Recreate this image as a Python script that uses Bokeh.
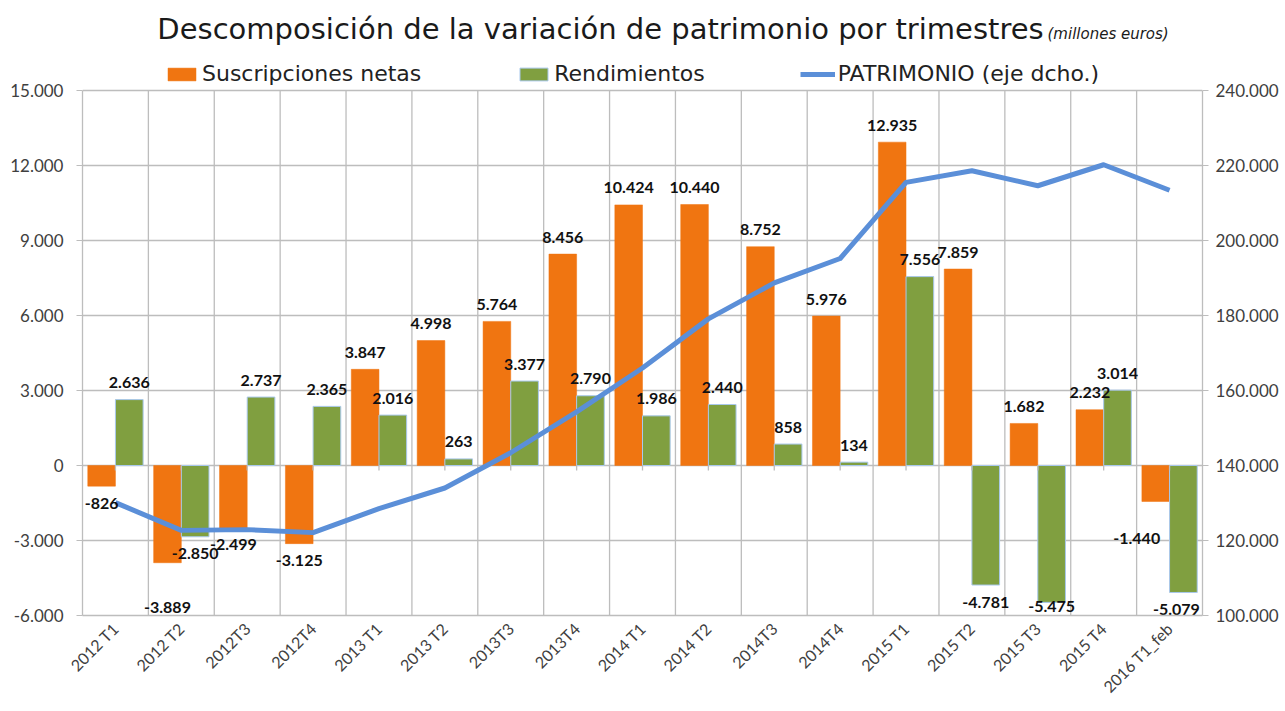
import math
from bokeh.plotting import figure
from bokeh.models import (ColumnDataSource, Range1d, LinearAxis, FixedTicker,
                          CustomJSTickFormatter, Legend, LegendItem, Label)
from bokeh.core.properties import value
from bokeh.embed import file_html
from bokeh.resources import INLINE

# ---------------- data ----------------
categories = ["2012 T1", "2012 T2", "2012T3", "2012T4", "2013 T1", "2013 T2",
              "2013T3", "2013T4", "2014 T1", "2014 T2", "2014T3", "2014T4",
              "2015 T1", "2015 T2", "2015 T3", "2015 T4", "2016 T1_feb"]
suscripciones = [-826, -3889, -2499, -3125, 3847, 4998, 5764, 8456, 10424,
                 10440, 8752, 5976, 12935, 7859, 1682, 2232, -1440]
rendimientos = [2636, -2850, 2737, 2365, 2016, 263, 3377, 2790, 1986,
                2440, 858, 134, 7556, -4781, -5475, 3014, -5079]
patrimonio = [130100, 122700, 122900, 122100, 128500, 134000, 143400, 154300,
              166000, 179100, 188700, 195200, 215500, 218600, 214600, 220200, 213400]
left_ticks = list(range(-6000, 15001, 3000))
right_ticks = list(range(100000, 240001, 20000))

# ---------------- style ----------------
FONT = "Lato"
HFONT = "DejaVu Sans"
ORANGE = "#F07511"
GREEN = "#809F40"
BLUE = "#5B8FD8"
GRID = "#BDBDBD"
TXT = "#404040"
BAR_W = 0.42
CHART_W, CHART_H = 1121, 525      # size of the gridded chart area
HEAD = 90                         # room above the grid for title + legend
BL, BR, BB = 82, 78, 96
# manual nudges (px) of a few data labels, as in the original
NUDGE = {(1, "s"): (0, 28), (16, "s"): (-19, 20), (16, "r"): (-7, 3)}


def fmt(v):
    return f"{v:,}".replace(",", ".")


# the frame extends above the grid to host title and legend (annotations are clipped to frame)
l_per_px = (left_ticks[-1] - left_ticks[0]) / CHART_H
r_per_px = (right_ticks[-1] - right_ticks[0]) / CHART_H
y_top = left_ticks[-1] + HEAD * l_per_px
r_top = right_ticks[-1] + HEAD * r_per_px

idx = list(range(len(categories)))
src = ColumnDataSource(dict(
    x=idx,
    xs=[i - BAR_W / 2 for i in idx],
    xr=[i + BAR_W / 2 for i in idx],
    susc=suscripciones, rend=rendimientos, pat=patrimonio))

FRAME_H = CHART_H + HEAD
p = figure(width=BL + CHART_W + BR, height=FRAME_H + BB,
           min_border_left=BL, min_border_right=BR, min_border_top=0, min_border_bottom=BB,
           x_range=Range1d(-0.5, len(categories) - 0.5),
           y_range=Range1d(left_ticks[0], y_top),
           output_backend="svg", toolbar_location=None)
p.outline_line_color = None
p.background_fill_color = "white"
p.border_fill_color = "white"

p.extra_y_ranges = {"pat": Range1d(right_ticks[0], r_top)}

thousands = CustomJSTickFormatter(code="""
    return Math.round(tick).toString().replace(/\\B(?=(\\d{3})+(?!\\d))/g, '.');
""")

# grids
p.ygrid.ticker = FixedTicker(ticks=left_ticks)
p.ygrid.grid_line_color = GRID
p.ygrid.grid_line_width = 1.3
p.xgrid.visible = False
bounds_x = [i + 0.5 for i in idx[:-1]]
p.segment(x0=bounds_x, x1=bounds_x, y0=[left_ticks[0]] * len(bounds_x),
          y1=[left_ticks[-1]] * len(bounds_x), line_color=GRID, line_width=1.3)

# bars
r_s = p.vbar(x="xs", top="susc", bottom=0, width=BAR_W, source=src,
             fill_color=ORANGE, line_color=ORANGE, line_width=0.5)
r_r = p.vbar(x="xr", top="rend", bottom=0, width=BAR_W, source=src,
             fill_color=GREEN, line_color="#A9C8EC", line_width=1)

# small ticks on the zero axis
p.segment(x0=idx, x1=idx, y0=[0] * len(idx), y1=[-5 * l_per_px] * len(idx),
          line_color=GRID, line_width=1.3)

# line
r_l = p.line(x="x", y="pat", source=src, y_range_name="pat",
             line_color=BLUE, line_width=5, line_join="round")

# data labels
lab_x, lab_t, lab_y, lab_dx, lab_dy = [], [], [], [], []
for i in idx:
    for key, xx, v in (("s", i - BAR_W / 2, suscripciones[i]),
                       ("r", i + BAR_W / 2, rendimientos[i])):
        lab_x.append(xx)
        lab_y.append(v)
        lab_t.append(fmt(v))
        if v >= 0:
            off = -17
        else:
            room = (v - left_ticks[0]) / l_per_px      # px between bar end and grid bottom
            off = max(4, min(17, room - 9))
        dx, dy = NUDGE.get((i, key), (0, 0))
        lab_dx.append(dx)
        lab_dy.append(off + dy)
lab_src = ColumnDataSource(dict(x=lab_x, y=lab_y, t=lab_t, dx=lab_dx, dy=lab_dy))
p.text(x="x", y="y", text="t", x_offset="dx", y_offset="dy", source=lab_src,
       text_align="center", text_baseline="middle",
       text_font=value(FONT), text_font_style="bold",
       text_font_size="16px", text_color="#111111")

# axes
xa = p.xaxis[0]
xa.ticker = FixedTicker(ticks=idx)
xa.major_label_overrides = {i: c for i, c in zip(idx, categories)}
xa.major_label_orientation = math.pi / 4
xa.axis_line_color = GRID
xa.axis_line_width = 1.3
xa.major_tick_line_color = None
xa.minor_tick_line_color = None
xa.major_label_text_font = FONT
xa.major_label_text_font_size = "16px"
xa.major_label_text_color = TXT
xa.major_label_standoff = 4

ya = p.yaxis[0]
ya.ticker = FixedTicker(ticks=left_ticks)
ya.bounds = (left_ticks[0], left_ticks[-1])
ya.formatter = thousands
ya.axis_line_color = GRID
ya.axis_line_width = 1.3
ya.major_tick_line_color = GRID
ya.major_tick_in = 0
ya.major_tick_out = 6
ya.minor_tick_line_color = None
ya.major_label_text_font = FONT
ya.major_label_text_font_size = "17px"
ya.major_label_text_color = TXT
ya.major_label_standoff = 13

yr = LinearAxis(y_range_name="pat", ticker=FixedTicker(ticks=right_ticks),
                formatter=thousands, bounds=(right_ticks[0], right_ticks[-1]))
yr.axis_line_color = GRID
yr.axis_line_width = 1.3
yr.major_tick_line_color = GRID
yr.major_tick_in = 0
yr.major_tick_out = 6
yr.minor_tick_line_color = None
yr.major_label_text_font = FONT
yr.major_label_text_font_size = "17px"
yr.major_label_text_color = TXT
yr.major_label_standoff = 7
p.add_layout(yr, "right")

# legend (screen px measured from frame bottom-left)
legend = Legend(items=[LegendItem(label="Suscripciones netas", renderers=[r_s]),
                       LegendItem(label="Rendimientos", renderers=[r_r]),
                       LegendItem(label="PATRIMONIO (eje dcho.)", renderers=[r_l])],
                orientation="horizontal", location=(82, FRAME_H - 86),
                spacing=95, glyph_width=35, glyph_height=16, label_standoff=3,
                label_text_font=HFONT, label_text_font_size="22px",
                label_text_color="#222222", border_line_color=None,
                background_fill_alpha=0, padding=0, margin=0)
p.add_layout(legend)

# title
p.add_layout(Label(x=518, y=FRAME_H - 28, x_units="screen", y_units="screen",
                   text="Descomposición de la variación de patrimonio por trimestres",
                   text_align="center", text_baseline="middle",
                   text_font=HFONT, text_font_size="29px", text_color="#1a1a1a"))
p.add_layout(Label(x=965, y=FRAME_H - 33, x_units="screen", y_units="screen",
                   text="(millones euros)", text_align="left", text_baseline="middle",
                   text_font=HFONT, text_font_style="italic",
                   text_font_size="15px", text_color="#1a1a1a"))

open("out.html", "w").write(file_html(p, INLINE))
